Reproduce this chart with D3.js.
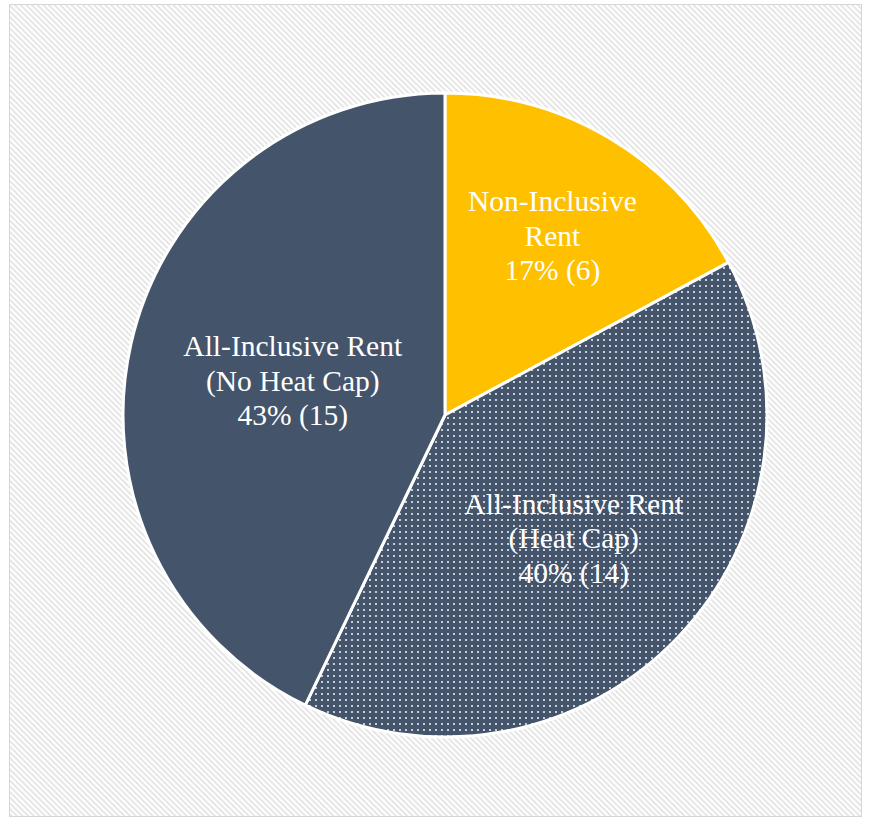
<!DOCTYPE html>
<html>
<head>
<meta charset="utf-8">
<script src="https://cdn.jsdelivr.net/npm/d3@7"></script>
<style>
  html, body { margin: 0; padding: 0; background: #ffffff; }
  svg { display: block; }
</style>
</head>
<body>
<svg id="chart" width="870" height="822"></svg>
<script>
// Rent arrangement categories and counts
const categories = ["Non-Inclusive Rent", "All-Inclusive Rent (Heat Cap)", "All-Inclusive Rent (No Heat Cap)"];
const labelLines = [
  ["Non-Inclusive", "Rent"],
  ["All-Inclusive Rent", "(Heat Cap)"],
  ["All-Inclusive Rent", "(No Heat Cap)"]
];
const counts = [6, 14, 15];
const percentLabels = ["17%", "40%", "43%"];

// Styling
const fills = ["#FFC000", "url(#dots)", "#44546A"];
const labelRadiusFactor = [0.65, 0.553, 0.485];

const width = 870, height = 822;
const cx = 445, cy = 415, radius = 322;

const svg = d3.select("#chart");
const defs = svg.append("defs");

// Diagonal stripe texture for the chart area
const stripes = defs.append("pattern")
  .attr("id", "stripes")
  .attr("patternUnits", "userSpaceOnUse")
  .attr("width", 4).attr("height", 4)
  .attr("patternTransform", "rotate(45)");
stripes.append("rect").attr("width", 4).attr("height", 4).attr("fill", "#ffffff");
stripes.append("rect").attr("width", 4).attr("height", 2).attr("fill", "#e6e6e6");

// Dotted texture on dark blue
const dots = defs.append("pattern")
  .attr("id", "dots")
  .attr("patternUnits", "userSpaceOnUse")
  .attr("width", 6).attr("height", 6);
dots.append("rect").attr("width", 6).attr("height", 6).attr("fill", "#44546A");
dots.append("rect").attr("x", 2).attr("y", 2).attr("width", 2).attr("height", 2).attr("fill", "#c9ced6");

// Chart area
svg.append("rect")
  .attr("x", 9.5).attr("y", 4.5)
  .attr("width", 852).attr("height", 812)
  .attr("fill", "url(#stripes)")
  .attr("stroke", "#d6d6d6")
  .attr("stroke-width", 1);

const pie = d3.pie().sort(null).value(d => d)(counts);
const arc = d3.arc().innerRadius(0).outerRadius(radius);

const g = svg.append("g").attr("transform", `translate(${cx},${cy})`);

g.selectAll("path.slice")
  .data(pie)
  .join("path")
  .attr("class", "slice")
  .attr("d", arc)
  .attr("fill", (d, i) => fills[i])
  .attr("stroke", "#ffffff")
  .attr("stroke-width", 3)
  .attr("stroke-linejoin", "round");

const lineHeight = 34.5;
const labels = g.selectAll("text.label")
  .data(pie)
  .join("text")
  .attr("class", "label")
  .attr("transform", (d, i) => {
    const r = radius * labelRadiusFactor[i];
    const c = d3.arc().innerRadius(r).outerRadius(r).centroid(d);
    return `translate(${c[0]},${c[1]})`;
  })
  .attr("text-anchor", "middle")
  .attr("fill", "#ffffff")
  .style("font-family", "'Liberation Serif', 'Times New Roman', serif")
  .style("font-size", "29.5px");

labels.each(function(d, i) {
  const lines = labelLines[i].concat([`${percentLabels[i]} (${counts[i]})`]);
  const t = d3.select(this);
  lines.forEach((ln, k) => {
    t.append("tspan")
      .attr("x", 0)
      .attr("y", (k - (lines.length - 1) / 2) * lineHeight)
      .attr("dy", "0.35em")
      .text(ln);
  });
});
</script>
</body>
</html>
